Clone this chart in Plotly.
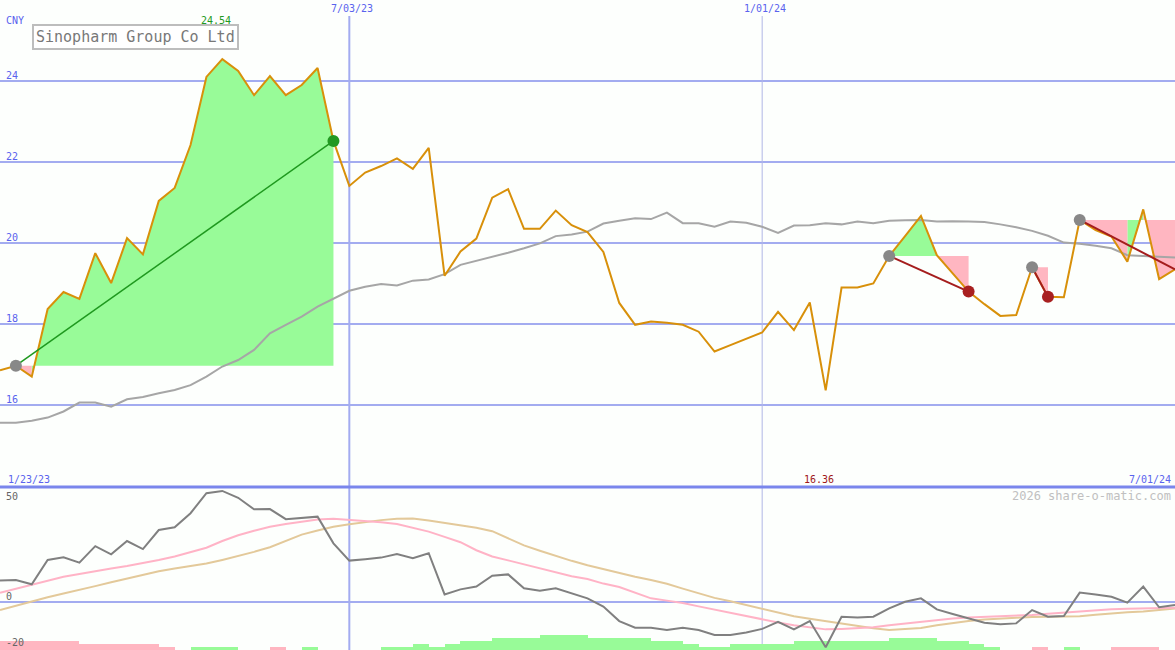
import plotly.graph_objects as go
import pandas as pd

# ---------------- data ----------------
weeks = pd.date_range("2023-01-30", periods=75, freq="7D")

price = [16.86, 16.97, 16.70, 18.37, 18.79, 18.62, 19.75, 19.01, 20.12, 19.72,
         21.04, 21.36, 22.42, 24.10, 24.54, 24.25, 23.65, 24.12, 23.65, 23.90,
         24.32, 22.52, 21.41, 21.74, 21.90, 22.09, 21.83, 22.35, 19.19, 19.79,
         20.11, 21.12, 21.33, 20.35, 20.35, 20.80, 20.44, 20.27, 19.78, 18.52,
         17.98, 18.06, 18.03, 17.98, 17.81, 17.32, 17.48, 17.63, 17.79, 18.30,
         17.85, 18.53, 16.36, 18.90, 18.90, 19.00, 19.68, 20.17, 20.67, 19.70,
         19.26, 18.80, 18.49, 18.20, 18.22, 19.40, 18.67, 18.66, 20.57, 20.32,
         20.16, 19.54, 20.83, 19.11, 19.35]

ma = [15.56, 15.56, 15.61, 15.69, 15.84, 16.06, 16.06, 15.96, 16.14, 16.20,
      16.29, 16.37, 16.49, 16.70, 16.95, 17.11, 17.36, 17.77, 17.98, 18.18,
      18.43, 18.62, 18.82, 18.92, 18.99, 18.95, 19.07, 19.10, 19.23, 19.46,
      19.56, 19.65, 19.76, 19.87, 19.99, 20.17, 20.21, 20.28, 20.48, 20.55,
      20.61, 20.59, 20.75, 20.49, 20.49, 20.40, 20.53, 20.50, 20.40, 20.25,
      20.43, 20.44, 20.49, 20.46, 20.53, 20.49, 20.55, 20.56, 20.57, 20.53,
      20.54, 20.53, 20.52, 20.46, 20.39, 20.30, 20.18, 20.01, 19.98, 19.93,
      19.87, 19.70, 19.68, 19.66, 19.64]

osc = [9.3, 9.6, 7.7, 18.3, 19.4, 17.1, 24.3, 20.7, 26.5, 23.0,
       31.3, 32.5, 38.6, 47.3, 48.3, 45.3, 40.3, 40.4, 36.0, 36.4,
       37.1, 25.5, 18.0, 18.6, 19.3, 20.9, 19.0, 21.2, 3.3, 5.5,
       6.7, 11.4, 12.0, 6.0, 4.9, 6.0, 3.8, 1.6, -2.0, -8.3,
       -11.2, -11.2, -12.2, -11.2, -12.2, -14.3, -14.3, -13.3, -11.7, -8.6,
       -11.9, -8.3, -19.7, -6.4, -6.7, -6.4, -2.8, 0.1, 1.6, -3.2,
       -5.2, -7.1, -9.0, -9.7, -9.3, -3.5, -6.4, -6.1, 4.1, 3.3,
       2.3, -0.3, 6.7, -2.3, -1.3]

osc_fast = [4.0, 5.8, 7.6, 9.3, 11.0, 12.2, 13.5, 14.6, 15.7, 16.9,
            18.3, 19.8, 21.6, 23.6, 26.5, 29.0, 31.0, 32.7, 33.9, 35.0,
            35.9, 36.2, 35.7, 35.3, 34.7, 33.9, 32.4, 30.6, 28.3, 26.0,
            22.5, 19.8, 18.1, 16.4, 14.6, 12.7, 11.2, 10.0, 8.0, 6.5,
            4.1, 1.6, 0.6, -0.4, -1.9, -3.3, -4.7, -6.3, -7.7, -8.9,
            -10.1, -11.0, -11.9, -11.7, -11.5, -11.0, -10.1, -9.3, -8.5, -7.8,
            -7.2, -6.7, -6.4, -6.2, -6.1, -5.6, -5.1, -4.6, -4.1, -3.5,
            -3.2, -2.9, -2.7, -2.6, -2.5]

osc_slow = [-3.5, -1.6, 0.3, 2.1, 3.7, 5.2, 6.9, 8.6, 10.3, 12.0,
            13.4, 14.6, 15.6, 16.7, 18.3, 19.9, 21.8, 23.8, 26.6, 29.3,
            31.1, 32.7, 33.8, 34.8, 35.6, 36.2, 36.3, 35.4, 34.4, 33.4,
            32.3, 30.8, 27.8, 24.6, 22.3, 20.0, 17.9, 16.0, 14.3, 12.4,
            11.0, 9.6, 7.9, 5.8, 3.7, 1.8, 0.3, -1.3, -2.9, -4.6,
            -6.2, -7.3, -8.4, -9.5, -10.5, -11.4, -12.2, -11.7, -11.3, -10.1,
            -9.1, -8.3, -7.6, -7.1, -6.8, -6.5, -6.4, -6.4, -6.2, -5.5,
            -4.9, -4.5, -4.1, -3.6, -2.8]

# weekly histogram levels (sign = colour), one per week interval
hist_level = [-3, -3, -3, -3, -3, -2, -2, -2, -2, -2,
              -1, 0, 1, 1, 1, 0, 0, -1, 0, 1,
              0, 0, 0, 0, 1, 1, 2, 1, 2, 3,
              3, 4, 4, 4, 5, 5, 5, 4, 4, 4,
              4, 3, 3, 2, 1, 1, 2, 2, 2, 2,
              3, 3, 3, 3, 3, 3, 4, 4, 4, 3,
              3, 2, 1, 0, 0, -1, 0, 1, 0, 0,
              -1, -1, -1, 0]

# trends: (start week, end week, has end marker)
trends = [(1, 21, True), (56, 61, True), (65, 66, True), (68, 74, False)]

price_ticks = [16, 18, 20, 22, 24]

# ---------------- layout constants ----------------
W, H = 1175, 650
SPLIT = 487
PX_PER_CNY = 40.5
PX_PER_OSC = 2.3
price_range = [26 - SPLIT / PX_PER_CNY, 26]
osc_range = [50 - (H - SPLIT) / PX_PER_OSC, 50]
HIST_UNIT = 3 / PX_PER_OSC

GREEN_FILL = "#98fb98"
PINK_FILL = "#ffb6c1"
GRID = "#a3acf0"
BLUE_TXT = "#5a63ee"
FONT = "DejaVu Sans Mono"


def ppx(p):
    return p / W


def ppy(p):
    return 1 - p / H


fig = go.Figure()

# ---- trend fills ----
gx, gy, rx, ry = [], [], [], []
for s, e, _ in trends:
    b = price[s]
    for k in range(s, e):
        xs = [weeks[k], weeks[k], weeks[k + 1], weeks[k + 1], weeks[k], None]
        ys = [b, price[k], price[k + 1], b, b, None]
        if price[k + 1] >= b:
            gx += xs
            gy += ys
        else:
            rx += xs
            ry += ys
fig.add_trace(go.Scatter(x=gx, y=gy, mode="lines", fill="toself", fillcolor=GREEN_FILL,
                         line=dict(width=0, color=GREEN_FILL), hoverinfo="skip"))
fig.add_trace(go.Scatter(x=rx, y=ry, mode="lines", fill="toself", fillcolor=PINK_FILL,
                         line=dict(width=0, color=PINK_FILL), hoverinfo="skip"))

# ---- moving average & price ----
fig.add_trace(go.Scatter(x=weeks, y=ma, mode="lines", line=dict(color="#a6a6a6", width=2)))
fig.add_trace(go.Scatter(x=weeks, y=price, mode="lines", line=dict(color="#d8900a", width=2)))

# ---- trend lines & dots ----
for s, e, has_end in trends:
    up = price[e] >= price[s]
    col = "#1f991f" if up else "#a51d1d"
    fig.add_trace(go.Scatter(x=[weeks[s], weeks[e]], y=[price[s], price[e]], mode="lines",
                             line=dict(color=col, width=1.5 if up else 2)))
    fig.add_trace(go.Scatter(x=[weeks[s]], y=[price[s]], mode="markers",
                             marker=dict(color="#888888", size=12)))
    if has_end:
        fig.add_trace(go.Scatter(x=[weeks[e]], y=[price[e]], mode="markers",
                                 marker=dict(color="#229922" if up else "#a82020", size=12)))

# ---- lower pane histogram ----
hx, hy, hc = [], [], []
for k, lv in enumerate(hist_level):
    if lv == 0:
        continue
    hx.append(weeks[k] + pd.Timedelta(days=3.5))
    hy.append(abs(lv) * HIST_UNIT)
    hc.append(GREEN_FILL if lv > 0 else PINK_FILL)
fig.add_trace(go.Bar(x=hx, y=hy, base=osc_range[0], width=7 * 86400000,
                     marker=dict(color=hc, line=dict(width=0)), yaxis="y2"))

# ---- lower pane lines ----
fig.add_trace(go.Scatter(x=weeks, y=osc_slow, mode="lines", yaxis="y2",
                         line=dict(color="#e3c99a", width=2)))
fig.add_trace(go.Scatter(x=weeks, y=osc_fast, mode="lines", yaxis="y2",
                         line=dict(color="#ffb3c6", width=2)))
fig.add_trace(go.Scatter(x=weeks, y=osc, mode="lines", yaxis="y2",
                         line=dict(color="#808080", width=2)))

# ---- grid / separators ----
shapes = []
for t in price_ticks:
    shapes.append(dict(type="line", xref="paper", x0=0, x1=1, yref="y", y0=t, y1=t,
                       line=dict(color=GRID, width=2), layer="below"))
shapes.append(dict(type="line", xref="paper", x0=0, x1=1, yref="y2", y0=0, y1=0,
                   line=dict(color=GRID, width=2), layer="below"))
shapes.append(dict(type="line", xref="paper", x0=0, x1=1, yref="paper",
                   y0=ppy(SPLIT), y1=ppy(SPLIT), line=dict(color="#7a86ec", width=3)))
shapes.append(dict(type="line", xref="x", x0=pd.Timestamp("2023-07-03"), x1=pd.Timestamp("2023-07-03"),
                   yref="paper", y0=0, y1=ppy(16), line=dict(color=GRID, width=2), layer="below"))
shapes.append(dict(type="line", xref="x", x0=pd.Timestamp("2024-01-01"), x1=pd.Timestamp("2024-01-01"),
                   yref="paper", y0=0, y1=ppy(16), line=dict(color="#b0b6e6", width=1), layer="below"))

# ---- text ----
ann = []


def label(text, x, y, color, size=10, xanchor="left", xref="paper", xshift=0):
    ann.append(dict(text=text, x=x, y=ppy(y), xref=xref, yref="paper", xanchor=xanchor,
                    yanchor="middle", showarrow=False, xshift=xshift,
                    font=dict(family=FONT, size=size, color=color)))


label("CNY", ppx(4), 21, BLUE_TXT)
for t in price_ticks:
    label(str(t), ppx(4), (26 - t) * PX_PER_CNY - 5.5, BLUE_TXT)
label("50", ppx(4), 496, "#666666")
label("0", ppx(4), 596, "#666666")
label("-20", ppx(4), 642, "#666666")

imax = price.index(max(price))
imin = price.index(min(price))
label(f"{max(price):.2f}", weeks[imax], 21, "#229922", xanchor="center", xref="x", xshift=-6)
label(f"{min(price):.2f}", weeks[imin], 479, "#a01818", xanchor="center", xref="x", xshift=-7)
label("7/03/23", pd.Timestamp("2023-07-03"), 9, BLUE_TXT, xanchor="center", xref="x", xshift=3)
label("1/01/24", pd.Timestamp("2024-01-01"), 9, BLUE_TXT, xanchor="center", xref="x", xshift=3)
label("1/23/23", ppx(6), 479, BLUE_TXT)
label("7/01/24", ppx(1173), 479, BLUE_TXT, xanchor="right")
label("2026 share-o-matic.com", ppx(1173), 496, "#c0c0c0", size=12, xanchor="right")

ann.append(dict(text="Sinopharm Group Co Ltd", x=ppx(32), y=ppy(24), xref="paper", yref="paper",
                xanchor="left", yanchor="top", showarrow=False,
                font=dict(family=FONT, size=15, color="#787878"),
                bordercolor="#bdbdbd", borderwidth=2, borderpad=2, bgcolor="#ffffff"))

fig.update_layout(
    width=W, height=H, margin=dict(l=0, r=0, t=0, b=0),
    paper_bgcolor="#fdfffd", plot_bgcolor="#fdfffd", showlegend=False,
    xaxis=dict(type="date", range=[weeks[0], weeks[-1]], showgrid=False, zeroline=False,
               showticklabels=False, showline=False, ticks=""),
    yaxis=dict(domain=[ppy(SPLIT), 1], range=price_range, showgrid=False, zeroline=False,
               showticklabels=False, ticks=""),
    yaxis2=dict(domain=[0, ppy(SPLIT)], range=osc_range, anchor="x", showgrid=False,
                zeroline=False, showticklabels=False, ticks=""),
    shapes=shapes, annotations=ann, bargap=0,
)

fig.write_html("out.html", config={"displayModeBar": False},
               post_script="document.body.style.margin='0';document.body.style.overflow='hidden';")
